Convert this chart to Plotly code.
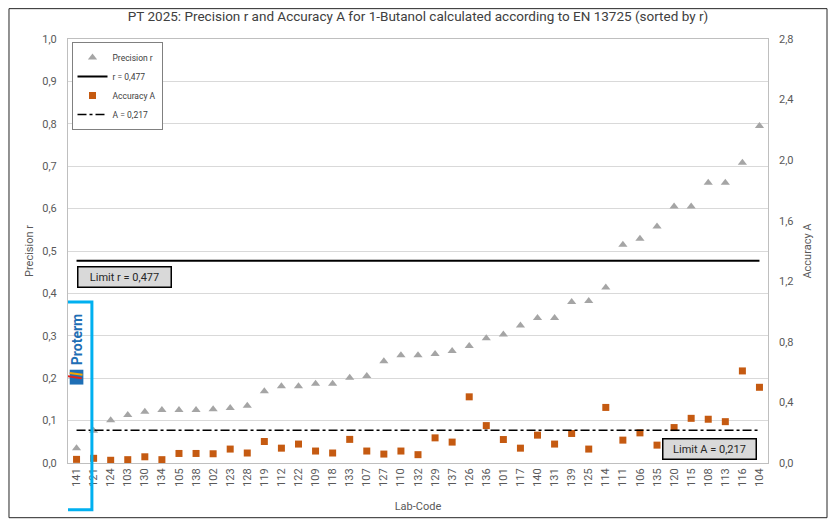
import plotly.graph_objects as go

# Lab-Codes, sortiert nach r
labs = ['141', '121', '124', '103', '130', '134', '105', '138', '102', '123',
        '128', '119', '112', '122', '109', '118', '133', '107', '127', '110',
        '132', '129', '137', '126', '136', '101', '117', '140', '131', '139',
        '125', '114', '111', '106', '135', '120', '115', '108', '113', '116', '104']

# Precision r (linke Achse)
precision_r = [0.035, 0.076, 0.101, 0.113, 0.121, 0.125, 0.125, 0.125, 0.127, 0.130,
               0.135, 0.169, 0.181, 0.181, 0.187, 0.187, 0.201, 0.205, 0.240, 0.254,
               0.254, 0.257, 0.264, 0.276, 0.294, 0.303, 0.324, 0.342, 0.342, 0.380,
               0.382, 0.414, 0.515, 0.529, 0.558, 0.605, 0.605, 0.661, 0.661, 0.708, 0.795]

# Accuracy A (rechte Achse)
accuracy_a = [0.024, 0.031, 0.018, 0.022, 0.041, 0.022, 0.063, 0.063, 0.061, 0.092,
              0.066, 0.142, 0.098, 0.125, 0.079, 0.066, 0.156, 0.079, 0.059, 0.079,
              0.055, 0.166, 0.138, 0.437, 0.247, 0.155, 0.098, 0.184, 0.125, 0.195,
              0.092, 0.367, 0.151, 0.199, 0.118, 0.234, 0.295, 0.289, 0.273, 0.608, 0.500]

limit_r = 0.477
limit_a = 0.217

left_ticks = [0.0, 0.1, 0.2, 0.3, 0.4, 0.5, 0.6, 0.7, 0.8, 0.9, 1.0]
right_ticks = [0.0, 0.4, 0.8, 1.2, 1.6, 2.0, 2.4, 2.8]

font = "Roboto"
grey = "#595959"

fig = go.Figure()

fig.add_trace(go.Scatter(x=labs, y=precision_r, mode="markers", name="Precision r",
                         marker=dict(symbol="triangle-up", size=8, color="#a5a5a5")))
fig.add_trace(go.Scatter(x=labs, y=[limit_r] * len(labs), mode="lines",
                         name="r = " + f"{limit_r:.3f}".replace(".", ","),
                         line=dict(color="black", width=2)))
fig.add_trace(go.Scatter(x=labs, y=accuracy_a, mode="markers", name="Accuracy A", yaxis="y2",
                         marker=dict(symbol="square", size=7, color="#c55a11")))
fig.add_trace(go.Scatter(x=labs, y=[limit_a] * len(labs), mode="lines", yaxis="y2",
                         name="A = " + f"{limit_a:.3f}".replace(".", ","),
                         line=dict(color="black", width=1.5, dash="dashdot")))

# Seite hat 8px body-Rand -> Figur 16px kleiner als das Fenster
fig.update_layout(
    width=820, height=515,
    margin=dict(l=60, r=60, t=31, b=58),
    paper_bgcolor="white", plot_bgcolor="white",
    separators=",.",
    font=dict(family=font, size=11, color=grey),
    title=dict(text="PT 2025: Precision r and Accuracy A for 1-Butanol calculated according to EN 13725 (sorted by r)",
               x=0.5, xanchor="center", y=0.984, yanchor="middle",
               font=dict(size=13.5, color="#404040")),
    xaxis=dict(type="category", range=[-0.5, len(labs) - 0.5], tickangle=-90,
               showline=True, mirror=True, linecolor="#bfbfbf", linewidth=1,
               showgrid=False, ticks="", tickfont=dict(size=11, color=grey),
               title=dict(text="Lab-Code", standoff=16, font=dict(size=11, color=grey))),
    yaxis=dict(range=[0, 1.0], tickvals=left_ticks, tickformat=".1f",
               showline=True, mirror=True, linecolor="#bfbfbf", linewidth=1,
               showgrid=True, gridcolor="#d9d9d9", zeroline=False, ticks="",
               ticklabelstandoff=8, tickfont=dict(size=11, color=grey),
               title=dict(text="Precision r", standoff=6, font=dict(size=11, color=grey))),
    yaxis2=dict(range=[0, 2.8], tickvals=right_ticks, tickformat=".1f", overlaying="y",
                side="right", showgrid=False, zeroline=False, ticks="",
                ticklabelstandoff=10, tickfont=dict(size=11, color=grey),
                title=dict(text="Accuracy A", standoff=10, font=dict(size=11, color=grey))),
    legend=dict(x=0.005, y=0.993, xanchor="left", yanchor="top",
                bgcolor="white", bordercolor="#808080", borderwidth=1,
                font=dict(size=8.5, color="#404040"), itemwidth=30, tracegroupgap=0),
)

# Grenzwert-Beschriftungen
fig.add_annotation(xref="paper", yref="paper", x=0.0814, y=0.4394, xanchor="center", yanchor="middle",
                   text="Limit r = " + f"{limit_r:.3f}".replace(".", ","), showarrow=False,
                   bgcolor="#d9d9d9", bordercolor="black", borderwidth=1.5, borderpad=3,
                   width=86, font=dict(size=11, color="#262626"))
fig.add_annotation(xref="paper", yref="paper", x=0.9167, y=0.0322, xanchor="center", yanchor="middle",
                   text="Limit A = " + f"{limit_a:.3f}".replace(".", ","), showarrow=False,
                   bgcolor="#d9d9d9", bordercolor="black", borderwidth=1.5, borderpad=3,
                   width=86, font=dict(size=11, color="#262626"))

# Markierung Lab 141 mit Logo
fig.add_shape(type="rect", xref="x", yref="paper", x0=-0.85, x1=0.9, y0=-0.11, y1=0.38,
              line=dict(color="#00b0f0", width=3), fillcolor="rgba(0,0,0,0)")
fig.add_annotation(xref="x", yref="paper", x=0, y=0.291, xanchor="center", yanchor="middle",
                   text="<b>Proterm</b>", textangle=-90, showarrow=False,
                   font=dict(size=14, color="#1f6fb5"))
fig.add_shape(type="rect", xref="x", yref="paper", x0=-0.4, x1=0.4, y0=0.185, y1=0.22,
              line=dict(width=0), fillcolor="#1f6fb5")
fig.add_shape(type="line", xref="x", yref="paper", x0=-0.55, x1=0.3, y0=0.205, y1=0.2,
              line=dict(color="#e2231a", width=2))
fig.add_shape(type="line", xref="x", yref="paper", x0=-0.4, x1=0.35, y0=0.212, y1=0.208,
              line=dict(color="#f7a600", width=2))

# Rahmen um das Diagramm
fig.add_shape(type="rect", xref="paper", yref="paper", x0=-0.0843, x1=1.0843, y0=-0.129, y1=1.0716,
              line=dict(color="#262626", width=1), fillcolor="rgba(0,0,0,0)")

fig.write_html("out.html")
